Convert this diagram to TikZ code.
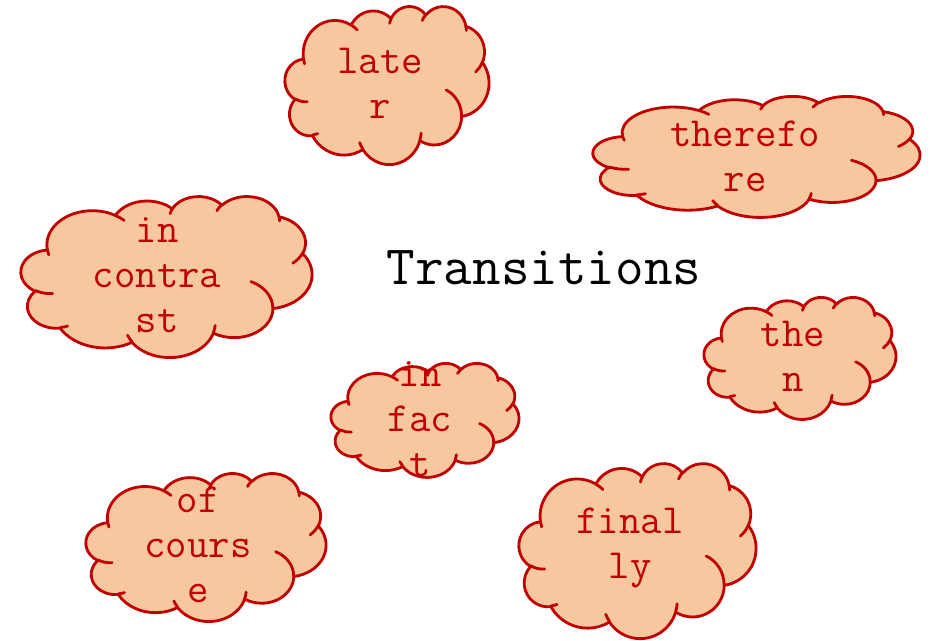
\documentclass[tikz,border=0pt]{standalone}
\usepackage{fontspec}
\definecolor{cloudred}{HTML}{C00000}
\definecolor{cloudfill}{HTML}{F7C7A0}
\tikzset{
  cloudline/.style={draw=cloudred, line width=2.8pt, line join=round},
  cloudtext/.style={align=center, text=cloudred, font=\ttfamily\fontsize{41.5}{45}\selectfont, inner sep=0pt},
  title/.style={font=\ttfamily\fontsize{55.5}{58}\selectfont, text=black, inner sep=0pt}
}
% visual angles (DrawingML) -> parametric angles
\newcommand\vang[4]{%
  \pgfmathsetmacro\vts{atan2((#1)*sin(#3), (#2)*cos(#3))}%
  \pgfmathsetmacro\vte{atan2((#1)*sin((#3)+(#4)), (#2)*cos((#3)+(#4)))}%
  \pgfmathsetmacro\vtd{\vte-\vts}%
  \pgfmathsetmacro\vtd{\vtd+360*round(((#4)-\vtd)/360)}%
  \global\let\vts\vts \global\let\vtd\vtd}
\newcommand\oarc[4]{\pgfextra{\vang{#1}{#2}{#3}{#4}} arc[x radius=#1, y radius=#2, start angle=\vts, delta angle=\vtd]}
% office-style cloud in a 432x432 box: #1 name, #2 left, #3 top, #4 width, #5 height
\newcommand\mycloud[5]{%
  \begin{scope}[shift={(#2,#3)}, x=#4pt/432, y=-#5pt/432]
  \coordinate (#1) at (216,216);
  \path[cloudline, fill=cloudfill] (39.00,143.70)
    \oarc{67.53}{91.90}{-190.4875}{123.7805}
    \oarc{53.33}{72.67}{-144.1024}{89.9452}
    \oarc{43.65}{59.45}{-145.8079}{99.7230}
    \oarc{48.57}{65.95}{-130.9861}{117.2417}
    \oarc{53.33}{72.73}{-78.7089}{109.0269}
    \oarc{67.75}{92.20}{-46.2673}{130.2690}
    \oarc{57.85}{78.67}{0.6250}{114.0333}
    \oarc{67.52}{92.15}{22.4516}{115.1726}
    \oarc{77.20}{105.43}{66.2426}{75.7110}
    \oarc{43.60}{59.18}{-274.9421}{146.7356}
    \oarc{43.45}{59.45}{-246.8285}{152.5189}
    -- cycle;
  \path[cloudline, line cap=round]
    (46.93,261.77) \oarc{43.45}{59.45}{86.7420}{26.4295}
    (69.28,348.99) \oarc{43.60}{59.18}{73.6105}{11.4475}
    (164.78,390.90) \oarc{67.52}{92.15}{137.6242}{14.0811}
    (288.27,347.51) \oarc{67.52}{92.15}{6.4533}{15.9984}
    (341.29,229.54) \oarc{57.85}{78.67}{-70.2924}{70.9174}
    (417.98,153.54) \oarc{53.33}{72.73}{30.3180}{27.7515}
    (383.24,54.26) \oarc{48.57}{65.95}{-13.7443}{14.8589}
    (290.78,39.52) \oarc{48.57}{65.95}{-149.1815}{18.1954}
    (221.41,47.20) \oarc{43.65}{59.45}{-163.4943}{17.6864}
    (140.00,51.92) \oarc{67.53}{91.90}{-66.7070}{12.3194}
    (41.27,157.89) \oarc{67.53}{91.90}{157.6544}{11.8582};
  \end{scope}}
\begin{document}
\begin{tikzpicture}[x=1pt,y=-1pt]
\useasboundingbox (0,0) rectangle (941,640);
\mycloud{c1}{285}{6}{204}{158}
\mycloud{c2}{593}{96}{327}{121}
\mycloud{c3}{21}{196}{291}{161}
\mycloud{c4}{704}{297}{192}{122}
\mycloud{c5}{331}{363}{188}{114}
\mycloud{c6}{86}{473}{240}{148}
\mycloud{c7}{519}{463}{237}{175}
\node[title] (t0) at (544,268) {Transitions};
\node[cloudtext] (t1) at (380,83) {late\\r};
\node[cloudtext] (t2) at (745,156) {therefo\\re};
\node[cloudtext] (t3) at (157,275) {in\\contra\\st};
\node[cloudtext] (t4) at (793,356) {the\\n};
\node[cloudtext] (t5) at (420,419) {in\\fac\\t};
\node[cloudtext] (t6) at (198,545) {of\\cours\\e};
\node[cloudtext] (t7) at (630,548) {final\\ly};
\end{tikzpicture}
\end{document}
